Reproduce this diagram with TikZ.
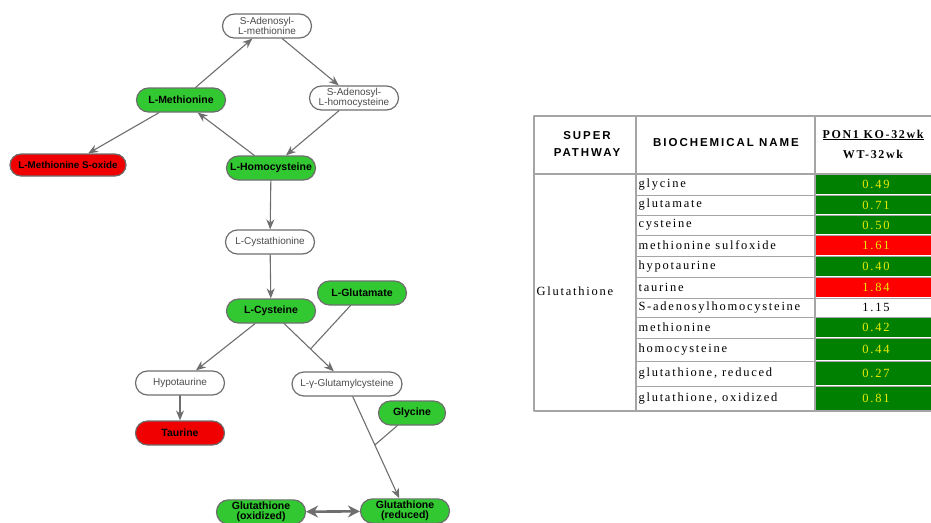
\documentclass[tikz,border=0pt]{standalone}
\usepackage{fontspec}
\setmainfont{Liberation Sans}
\newfontfamily\tabfont[LetterSpace=14]{Liberation Serif}
\newfontfamily\headfont[LetterSpace=17]{Liberation Sans}
\usetikzlibrary{arrows.meta,calc}
\definecolor{nodegreen}{RGB}{50,200,50}
\definecolor{nodered}{RGB}{240,0,0}
\definecolor{cellgreen}{RGB}{0,128,0}
\definecolor{cellred}{RGB}{255,0,0}
\definecolor{rimgray}{RGB}{110,110,110}
\definecolor{gridgray}{RGB}{165,165,165}
\definecolor{valyellow}{RGB}{235,235,0}

\begin{document}
\begin{tikzpicture}[x=1pt, y=-1pt, line cap=round, line join=round,
    met/.style={draw=rimgray, line width=1.2pt, rounded corners=12pt, minimum height=24pt,
      minimum width=89pt, inner sep=2pt, align=center},
    plainmet/.style={met, fill=white, text=black!70, font=\fontsize{10}{10.5}\selectfont},
    lowmet/.style={met, fill=nodegreen, font=\fontsize{10.5}{10.5}\selectfont\bfseries},
    highmet/.style={met, fill=nodered, font=\fontsize{10.5}{10.5}\selectfont\bfseries},
    rxn/.style={draw=rimgray, line width=1.1pt, -{Stealth[length=10pt,width=8pt]}},
    joinline/.style={draw=rimgray, line width=1.1pt},
    celltext/.style={font=\tabfont\fontsize{12.5}{13}\selectfont},
  ]
  \useasboundingbox (0,0) rectangle (931,522);

  % methionine cycle
  \node[plainmet] (sam) at (267,26) {S-Adenosyl-\\L-methionine};
  \node[plainmet] (sah) at (354,98) {S-Adenosyl-\\L-homocysteine};
  \node[lowmet] (met) at (181,100) {L-Methionine};
  \node[highmet, minimum width=116pt, minimum height=22pt, rounded corners=11pt,
    font=\fontsize{9.8}{10}\selectfont\bfseries] (metso) at (68,165) {L-Methionine S-oxide};
  \node[lowmet] (hcy) at (271,168) {L-Homocysteine};
  % transsulfuration
  \node[plainmet] (cysta) at (270,242) {L-Cystathionine};
  \node[lowmet] (cys) at (271,311) {L-Cysteine};
  \node[lowmet] (glu) at (362,293) {L-Glutamate};
  \node[plainmet] (hypo) at (180,383) {Hypotaurine};
  \node[plainmet, minimum width=110pt] (gcys) at (347,384) {L-γ-Glutamylcysteine};
  \node[lowmet, minimum width=67pt] (gly) at (412,413) {Glycine};
  \node[highmet] (tau) at (180,433) {Taurine};
  % glutathione pair
  \node[lowmet] (gssg) at (261,512) {Glutathione\\(oxidized)};
  \node[lowmet] (gsh) at (405,511) {Glutathione\\(reduced)};

  \draw[rxn] (met) -- (sam);
  \draw[rxn] (sam) -- (sah);
  \draw[rxn] (sah) -- (hcy);
  \draw[rxn] (hcy) -- (met);
  \draw[rxn] (met) -- (metso);
  \draw[rxn] (hcy) -- (cysta);
  \draw[rxn] (cysta) -- (cys);
  \draw[rxn] (cys) -- (hypo);
  \draw[rxn] (hypo) -- (tau);
  \draw[rxn] (cys) -- (gcys);
  \draw[rxn] (gcys) -- (gsh);
  % co-substrates joining the arrows
  \coordinate (gluin) at ($(cys)!0.52!(gcys)$);
  \draw[joinline] (glu) -- (gluin);
  \coordinate (glyin) at ($(gcys)!0.48!(gsh)$);
  \draw[joinline] (gly) -- (glyin);
  \draw[rxn, line width=2.6pt, {Stealth[length=12pt,width=12pt]}-{Stealth[length=12pt,width=12pt]}] (gssg) -- (gsh);

  % table: value cells
  \foreach \top/\bot/\name/\val/\tint/\ink [count=\r] in {
      174/195/glycine/0.49/cellgreen/valyellow,
      195/215/glutamate/0.71/cellgreen/valyellow,
      215/235/cysteine/0.50/cellgreen/valyellow,
      235/256/methionine sulfoxide/1.61/cellred/valyellow,
      256/277/hypotaurine/0.40/cellgreen/valyellow,
      277/298/taurine/1.84/cellred/valyellow,
      298/317/S-adenosylhomocysteine/1.15/white/black,
      317/338/methionine/0.42/cellgreen/valyellow,
      338/361/homocysteine/0.44/cellgreen/valyellow,
      361/386/{glutathione, reduced}/0.27/cellgreen/valyellow,
      386/411/{glutathione, oxidized}/0.81/cellgreen/valyellow} {
    \fill[\tint] (816,\top+1) rectangle (940,\bot-1);
    \draw[gridgray, line width=1pt] (636,\bot) -- (940,\bot);
    \node[celltext, anchor=west] (bio\r) at (635,{(\top+\bot)/2}) {\name};
    \node[celltext, text=\ink] (val\r) at (876,{(\top+\bot)/2}) {\val};
  }
  % table: frame and header
  \draw[gridgray, line width=1.4pt] (534,116) rectangle (940,411);
  \draw[gridgray, line width=1.4pt] (636,116) -- (636,411);
  \draw[gridgray, line width=1.4pt] (815,116) -- (815,411);
  \draw[gridgray, line width=1.4pt] (534,174) -- (940,174);
  \node[font=\headfont\fontsize{11.5}{17}\selectfont\bfseries, align=center] (hsuper) at (587,144) {SUPER\\PATHWAY};
  \node[font=\headfont\fontsize{11.5}{12}\selectfont\bfseries] (hbio) at (726,143) {BIOCHEMICAL NAME};
  \node[celltext, font=\tabfont\fontsize{12}{13}\selectfont\bfseries, anchor=west] (hko) at (819,135) {\underline{PON1 KO-32wk}};
  \node[celltext, font=\tabfont\fontsize{12}{13}\selectfont\bfseries] (hwt) at (873,154) {WT-32wk};
  \node[celltext, anchor=west] (pathway) at (533,291) {Glutathione};
\end{tikzpicture}
\end{document}
